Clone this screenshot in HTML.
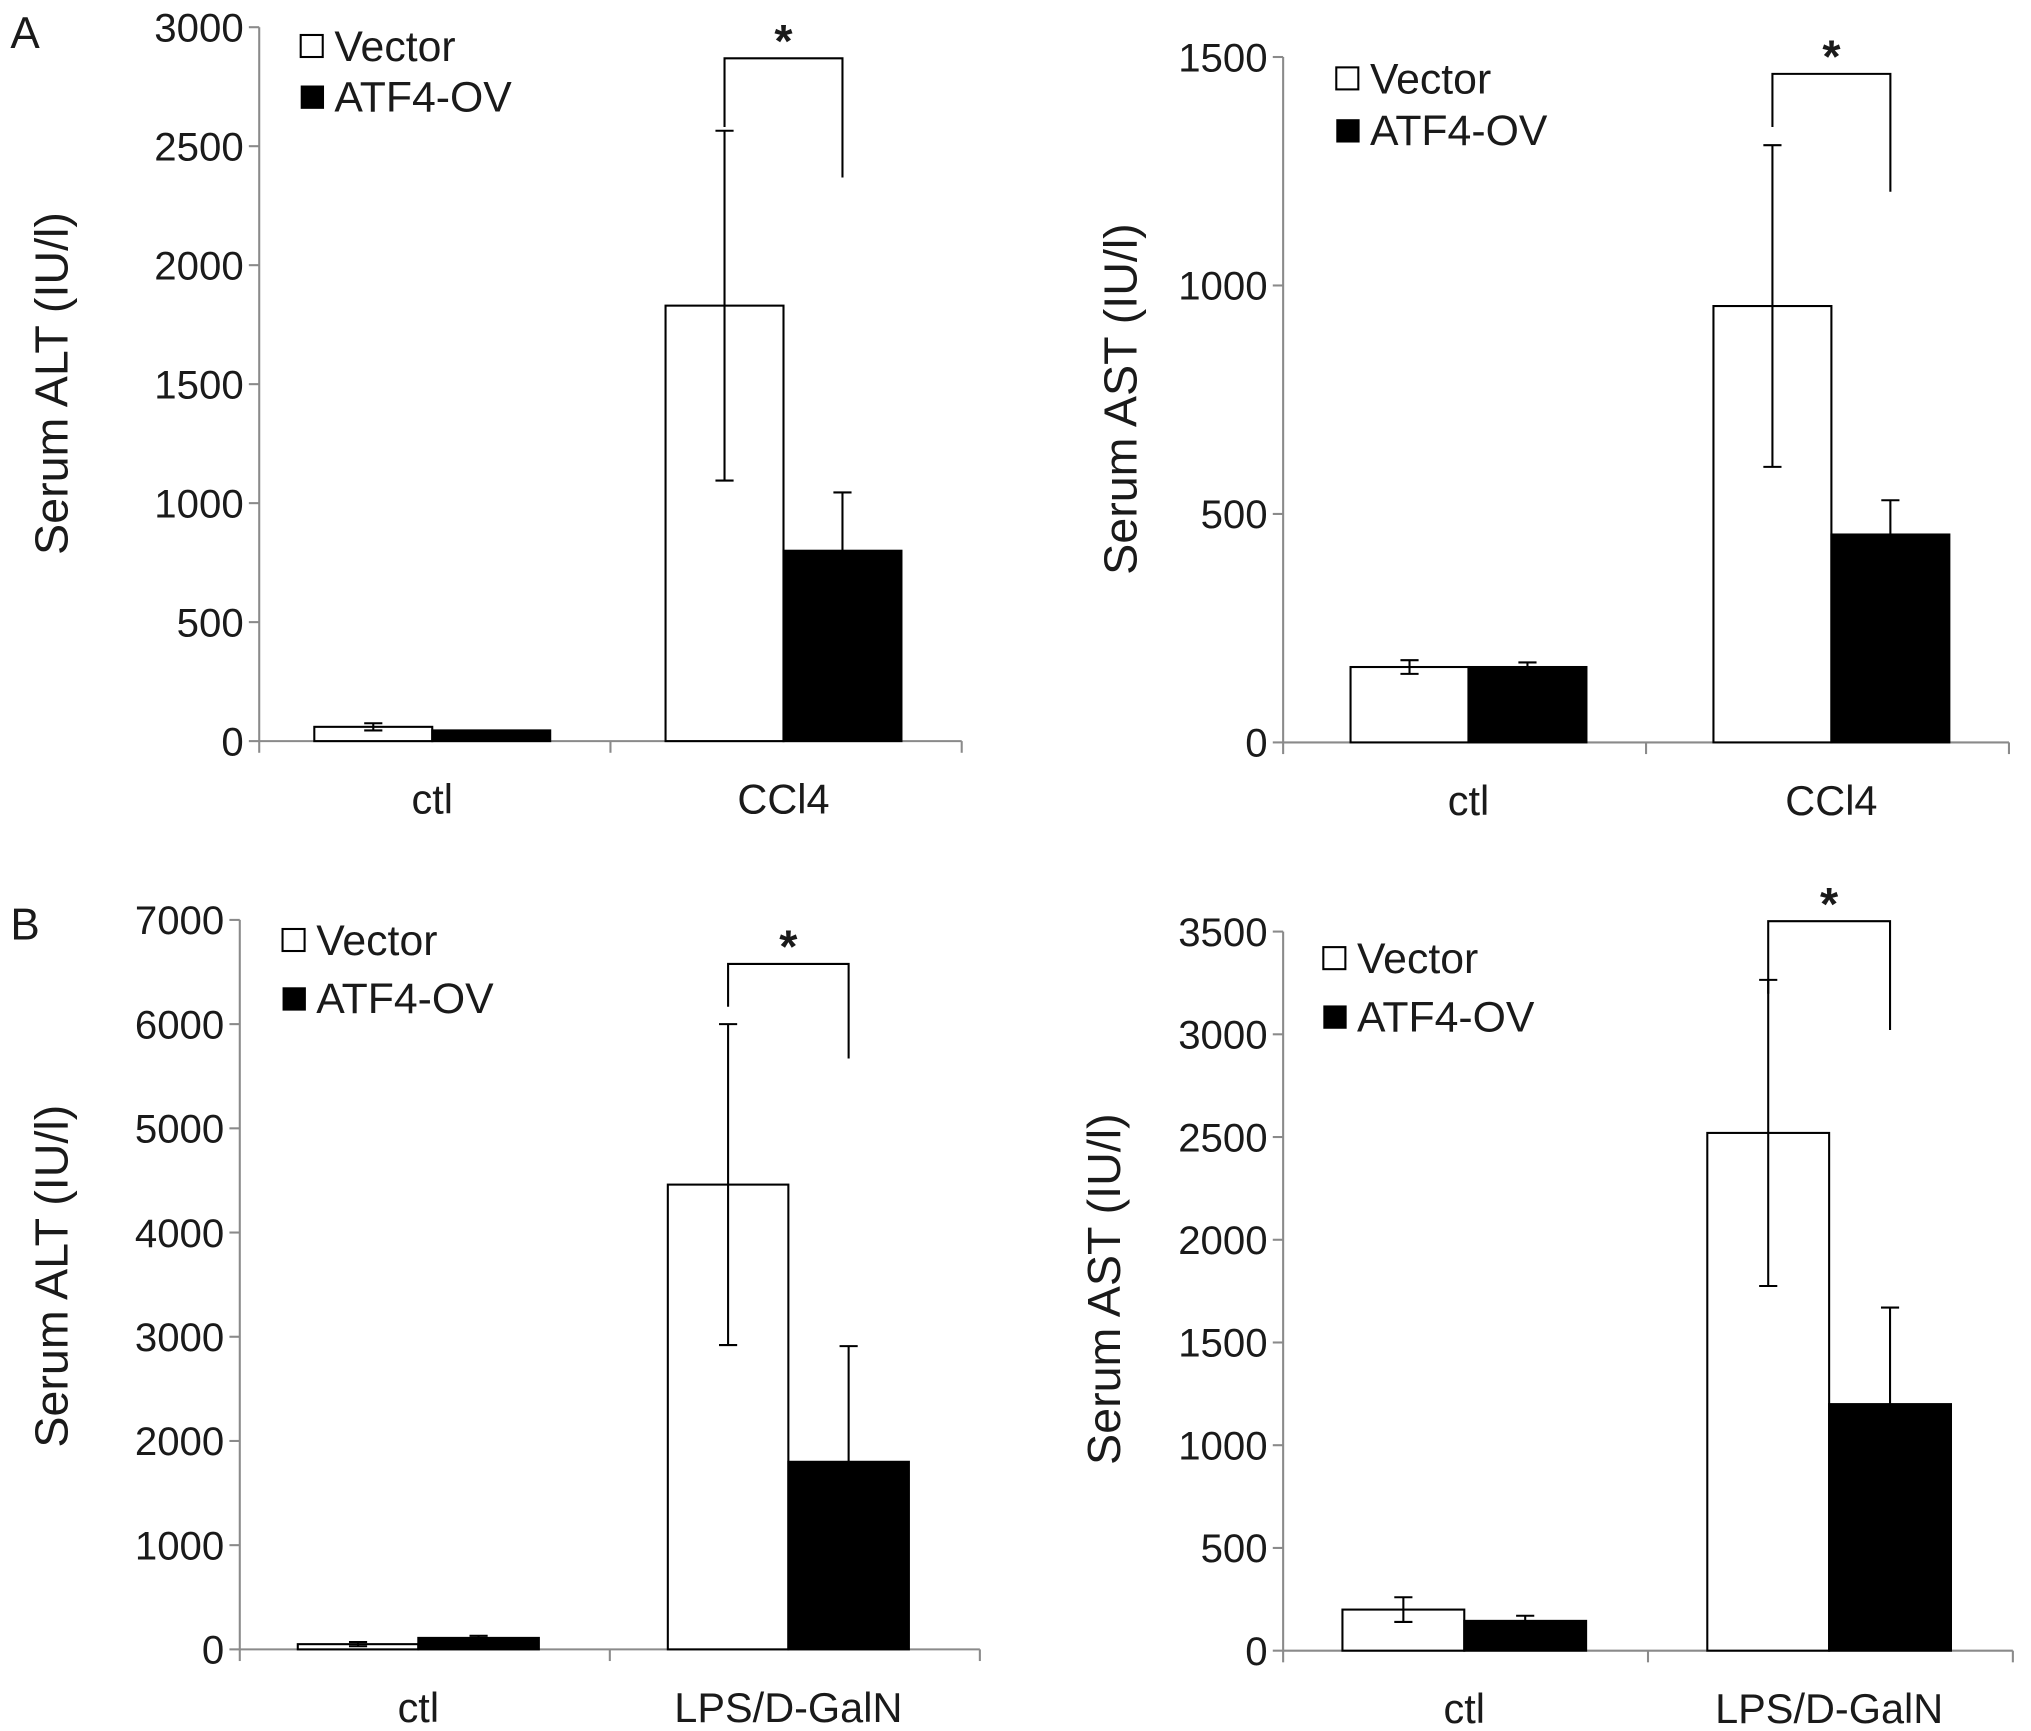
<!DOCTYPE html>
<html><head><meta charset="utf-8">
<style>
html,body{margin:0;padding:0;background:#fff;}
svg{display:block;}
text{font-family:"Liberation Sans",Arial,sans-serif;fill:#1a1a1a;}
</style></head>
<body>
<svg id="fig" width="2031" height="1731" viewBox="0 0 1567 1336" preserveAspectRatio="none" xmlns="http://www.w3.org/2000/svg">
<text x="8" y="37" font-size="34">A</text>
<text x="8" y="725" font-size="34">B</text>
</svg>
<script>
// Panel data
const catsA = ["ctl", "CCl4"];
const catsB = ["ctl", "LPS/D-GalN"];
const altA_vector = [60, 1830];
const altA_vectorErr = [15, 735];
const altA_atf = [45, 800];
const altA_atfErr = [0, 245];
const altA_ticks = [0, 500, 1000, 1500, 2000, 2500, 3000];
const astA_vector = [165, 955];
const astA_vectorErr = [15, 352];
const astA_atf = [165, 455];
const astA_atfErr = [10, 75];
const astA_ticks = [0, 500, 1000, 1500];
const altB_vector = [50, 4460];
const altB_vectorErr = [20, 1540];
const altB_atf = [110, 1800];
const altB_atfErr = [20, 1110];
const altB_ticks = [0, 1000, 2000, 3000, 4000, 5000, 6000, 7000];
const astB_vector = [200, 2520];
const astB_vectorErr = [60, 745];
const astB_atf = [145, 1200];
const astB_atfErr = [25, 470];
const astB_ticks = [0, 500, 1000, 1500, 2000, 2500, 3000, 3500];

const NS = "http://www.w3.org/2000/svg";
const svg = document.getElementById("fig");
function mk(tag, attrs, parent) {
  const e = document.createElementNS(NS, tag);
  for (const k in attrs) e.setAttribute(k, attrs[k]);
  (parent || svg).appendChild(e);
  return e;
}

function panel(p) {
  const g = mk("g", {});
  
  
  const ymax = p.ticks[p.ticks.length - 1];
  const y = v => p.y0 - (v / ymax) * (p.y0 - p.yTop);
  const catW = (p.xEnd - p.ax) / p.cats.length;
  const barW = p.barW;
  const ya = mk("line", {x1: p.ax, y1: p.yTop, x2: p.ax, y2: p.y0, stroke: "#8a8a8a", "stroke-width": 1.6}, g);
  
  
  const xa = mk("line", {x1: p.ax, y1: p.y0, x2: p.xEnd, y2: p.y0, stroke: "#8a8a8a", "stroke-width": 1.6}, g);
  
  
  p.ticks.forEach(t => {
    const ty = y(t);
    mk("line", {x1: p.ax - 8, y1: ty, x2: p.ax, y2: ty, stroke: "#8a8a8a", "stroke-width": 1.6}, g);
    const tl = mk("text", {x: p.ax - 12, y: ty + 11, "font-size": 31, "text-anchor": "end"}, g);
    tl.textContent = t;
    
    
  });
  for (let i = 0; i <= p.cats.length; i++) {
    const tx = p.ax + i * catW;
    mk("line", {x1: tx, y1: p.y0, x2: tx, y2: p.y0 + 9, stroke: "#8a8a8a", "stroke-width": 1.6}, g);
  }
  const yt = mk("text", {x: 0, y: 0, "font-size": 36, "text-anchor": "middle", transform: `translate(${p.yLabelX},${p.yLabelY}) rotate(-90)`}, g);
  yt.textContent = p.ytitle;
  
  
  p.cats.forEach((c, i) => {
    const cx = p.ax + (i + 0.5) * catW + p.shift;
    const cl = mk("text", {x: cx, y: p.y0 + 56, "font-size": 32, "text-anchor": "middle"}, g);
    cl.textContent = c;
    
    
    const series = [[p.vec, p.vecErr, "#fff", "bar-vector", true], [p.atf, p.atfErr, "#000", "bar-atf4-ov", false]];
    series.forEach((s, j) => {
      const v = s[0][i], e = s[1][i];
      const bx = cx - barW + j * barW;
      const r = mk("rect", {x: bx, y: y(v), width: barW, height: p.y0 - y(v), fill: s[2], stroke: "#000", "stroke-width": 1.6}, g);
      
      
      if (e > 0) {
        const mx = bx + barW / 2;
        const eb = mk("path", {d: `M${mx - 7},${y(v + e)}H${mx + 7}M${mx},${y(v + e)}V${y(s[4] ? v - e : v)}` + (s[4] ? `M${mx - 7},${y(v - e)}H${mx + 7}` : ""), stroke: "#000", "stroke-width": 1.6, fill: "none"}, g);
        
        
      }
    });
  });
  const c2 = p.ax + 1.5 * catW + p.shift;
  const lx = c2 - barW / 2, rx = c2 + barW / 2;
  const br = mk("path", {d: `M${lx},${p.brL}V${p.brTop}H${rx}V${p.brR}`, stroke: "#000", "stroke-width": 1.6, fill: "none"}, g);
  
  
  const st = mk("text", {x: c2, y: p.brTop - 1, "font-size": 36, "font-weight": "bold", "text-anchor": "middle"}, g);
  st.textContent = "*";
  
  
  const l1 = mk("rect", {x: p.legX, y: p.legY, width: 17, height: 17, fill: "#fff", stroke: "#000", "stroke-width": 1.6}, g);
  
  
  const t1 = mk("text", {x: p.legX + 26, y: p.legY + 20, "font-size": 33}, g);
  t1.textContent = "Vector";
  
  
  const l2 = mk("rect", {x: p.legX, y: p.legY + p.legGap, width: 18, height: 18, fill: "#000"}, g);
  
  
  const t2 = mk("text", {x: p.legX + 26, y: p.legY + p.legGap + 20, "font-size": 33}, g);
  t2.textContent = "ATF4-OV";
  
  
}

panel({name: "chart-a-alt", cats: catsA, vec: altA_vector, vecErr: altA_vectorErr, atf: altA_atf, atfErr: altA_atfErr, ticks: altA_ticks,
  ax: 200, xEnd: 742, y0: 572, yTop: 21, barW: 91, shift: -2, ytitle: "Serum ALT (IU/l)", yLabelX: 52, yLabelY: 296,
  brTop: 45, brL: 98, brR: 137, legX: 232, legY: 27, legGap: 39});
panel({name: "chart-a-ast", cats: catsA, vec: astA_vector, vecErr: astA_vectorErr, atf: astA_atf, atfErr: astA_atfErr, ticks: astA_ticks,
  ax: 990, xEnd: 1550, y0: 573, yTop: 44, barW: 91, shift: 3, ytitle: "Serum AST (IU/l)", yLabelX: 877, yLabelY: 308,
  brTop: 57, brL: 98, brR: 148, legX: 1031, legY: 52, legGap: 40});
panel({name: "chart-b-alt", cats: catsB, vec: altB_vector, vecErr: altB_vectorErr, atf: altB_atf, atfErr: altB_atfErr, ticks: altB_ticks,
  ax: 185, xEnd: 756, y0: 1273, yTop: 710, barW: 93, shift: -5, ytitle: "Serum ALT (IU/l)", yLabelX: 52, yLabelY: 985,
  brTop: 744, brL: 777, brR: 817, legX: 218, legY: 717, legGap: 45});
panel({name: "chart-b-ast", cats: catsB, vec: astB_vector, vecErr: astB_vectorErr, atf: astB_atf, atfErr: astB_atfErr, ticks: astB_ticks,
  ax: 990, xEnd: 1553, y0: 1274, yTop: 719, barW: 94, shift: -1, ytitle: "Serum AST (IU/l)", yLabelX: 864, yLabelY: 995,
  brTop: 711, brL: 767, brR: 795, legX: 1021, legY: 731, legGap: 45});
</script>
</body></html>
